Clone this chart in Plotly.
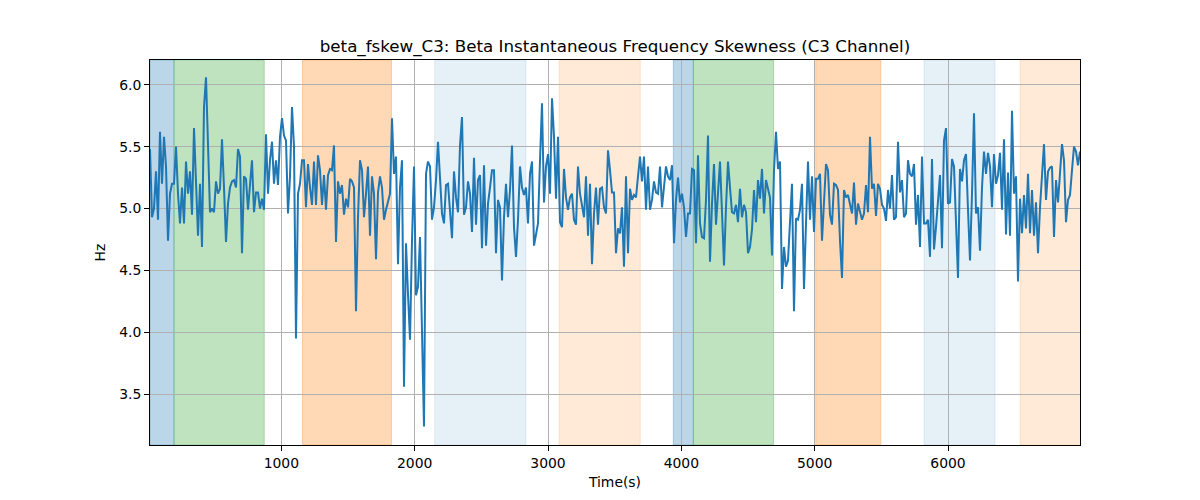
import numpy as np
import plotly.graph_objects as go

# Signal values (Hz), one sample every 15 s
values = [
    5.48, 4.93, 5.00, 5.30, 4.91, 5.62, 5.20, 5.58, 5.34, 4.74, 5.12, 5.20, 5.20, 5.50, 5.12, 4.88,
    5.17, 4.88, 5.38, 5.12, 5.30, 4.95, 5.65, 5.17, 4.78, 5.20, 4.69, 5.82, 6.06, 5.52, 4.97, 5.00,
    4.97, 5.22, 5.12, 5.16, 5.56, 5.17, 4.73, 5.04, 5.17, 5.22, 5.23, 5.17, 5.48, 5.42, 4.64, 5.26,
    5.24, 4.99, 5.17, 5.39, 4.97, 5.13, 5.13, 5.00, 5.08, 4.99, 5.60, 5.12, 5.39, 5.54, 5.20, 5.39,
    5.19, 5.58, 5.73, 5.59, 5.55, 4.96, 5.26, 5.82, 5.50, 3.95, 5.12, 5.20, 5.39,
    # zoom 2
    5.39, 5.01, 5.36, 5.17, 5.03, 5.38, 5.03, 5.43, 5.31, 5.03, 5.27, 4.99, 5.27, 5.32, 5.31, 5.51,
    4.73, 5.22, 5.12, 5.19, 4.95, 5.08, 5.01, 5.24, 5.22, 5.17, 4.17, 4.93, 5.39, 5.31, 4.93, 5.12,
    5.34, 4.78, 5.26, 5.12, 4.59, 5.13, 5.26, 5.17, 4.91, 4.99, 5.07, 5.12, 5.73, 5.28, 5.42, 4.55,
    5.17, 5.39, 3.56, 4.72, 4.31, 3.94, 4.74, 5.34, 4.30, 4.37, 4.77, 4.05, 3.24, 5.28, 5.38, 5.34,
    4.91, 5.01, 5.23, 5.54, 5.20, 4.96, 4.88, 5.19, 5.20, 4.93, 4.76, 5.30, 5.09, 4.97, 5.51,
    # zoom 3
    5.74, 4.95, 5.01, 5.22, 5.12, 4.81, 5.41, 4.87, 5.23, 5.27, 4.68, 5.35, 4.70, 5.04, 5.17, 5.31,
    5.31, 4.64, 5.07, 5.01, 4.42, 4.93, 5.20, 4.93, 5.15, 5.51, 4.85, 4.61, 4.91, 5.34, 5.17, 5.11,
    5.17, 4.88, 5.28, 5.38, 4.70, 4.80, 4.88, 5.39, 5.85, 5.05, 5.34, 5.44, 5.12, 5.89, 5.58, 5.08,
    5.58, 4.89, 4.85, 5.32, 5.09, 4.99, 5.09, 5.12, 4.91, 4.87, 5.34, 5.12, 5.01, 4.93, 5.26, 4.78,
    5.20, 4.55, 4.96, 5.17, 4.87, 5.16, 5.17, 5.01, 4.96, 5.47, 5.31, 5.13, 5.13, 4.64,
    # zoom 4
    4.84, 4.80, 5.01, 4.53, 5.26, 4.64, 5.16, 5.07, 5.11, 5.09, 5.26, 5.42, 5.22, 5.42, 4.99, 5.34,
    4.99, 5.07, 5.22, 5.13, 5.12, 5.34, 5.01, 5.17, 5.34, 5.26, 5.23, 5.35, 4.72, 5.07, 5.25, 5.05,
    5.12, 5.01, 4.77, 4.96, 4.96, 5.32, 5.31, 4.72, 5.43, 4.88, 4.77, 4.76, 5.07, 5.59, 4.57, 5.04,
    5.36, 4.87, 5.12, 5.38, 4.97, 4.54, 5.01, 5.38, 5.17, 4.97, 4.96, 5.03, 4.89, 5.16, 4.93, 5.03,
    4.97, 4.64, 4.69, 4.83, 5.15, 4.89, 5.23, 5.08, 5.32, 4.96, 5.23, 5.17, 5.09,
    # zoom 5
    4.62, 5.31, 5.62, 5.32, 5.38, 4.35, 4.69, 4.53, 4.58, 4.85, 5.20, 4.17, 4.92, 4.91, 4.99, 5.20,
    4.35, 4.88, 5.38, 4.91, 5.26, 4.81, 5.24, 5.24, 5.28, 4.74, 5.01, 5.36, 5.31, 4.95, 4.87, 5.20,
    5.19, 5.15, 4.74, 4.44, 5.15, 5.09, 5.11, 5.04, 4.96, 5.21, 4.87, 5.04, 4.97, 4.91, 4.96, 5.19,
    4.97, 5.58, 5.16, 5.20, 4.94, 5.20, 5.16, 5.03, 5.00, 4.90, 5.15, 5.00, 5.27, 4.91, 4.93, 5.54,
    5.13, 5.23, 4.93, 4.96, 5.39, 5.28, 5.26, 5.36, 4.87, 5.11, 4.69, 5.42, 4.88,
    # zoom 6
    4.88, 4.91, 4.61, 5.40, 4.67, 4.85, 5.04, 5.27, 4.68, 5.55, 5.65, 5.04, 5.05, 5.40, 5.34, 4.85,
    4.44, 5.32, 5.22, 5.39, 5.44, 4.99, 4.58, 5.12, 5.77, 4.96, 5.01, 4.66, 5.17, 5.46, 5.28, 5.45,
    5.34, 5.01, 5.44, 5.20, 5.27, 5.45, 4.99, 5.56, 4.79, 5.29, 4.78, 5.79, 5.12, 5.26, 4.41, 5.08,
    4.80, 5.11, 4.84, 5.28, 4.80, 5.15, 4.78, 5.05, 4.64, 5.01, 5.31, 5.52, 5.07, 5.30, 5.33, 5.34,
    4.77, 5.23, 5.05, 5.31, 5.52, 5.39, 4.89, 5.07, 5.11, 5.31, 5.50, 5.46, 5.35, 5.46,
]
sample_step = 15
time_s = [sample_step * (i + 1) for i in range(len(values))]

# Shaded segments: start, end, colour
span_starts = [15, 195, 1158, 2150, 3083, 3940, 4090, 5008, 5820, 6541]
span_ends = [195, 872, 1827, 2835, 3692, 4090, 4692, 5496, 6353, 7000]
span_colors = [
    "rgba(31,119,180,0.3)", "rgba(44,160,44,0.3)", "rgba(255,127,14,0.3)",
    "rgba(31,119,180,0.11)", "rgba(255,127,14,0.16)", "rgba(31,119,180,0.3)",
    "rgba(44,160,44,0.3)", "rgba(255,127,14,0.3)", "rgba(31,119,180,0.11)",
    "rgba(255,127,14,0.16)",
]

x_ticks = [1000, 2000, 3000, 4000, 5000, 6000]
y_ticks = [3.5, 4.0, 4.5, 5.0, 5.5, 6.0]

fig = go.Figure()
for s, e, c in zip(span_starts, span_ends, span_colors):
    fig.add_shape(type="rect", xref="x", yref="paper", x0=s, x1=e, y0=0, y1=1,
                  fillcolor=c, line=dict(color=c, width=1), layer="below")

fig.add_trace(go.Scatter(x=time_s, y=values, mode="lines",
                         line=dict(color="#1f77b4", width=2), showlegend=False))

font_tick = dict(family="DejaVu Sans", size=13.9, color="black")
axis_common = dict(showline=True, linecolor="black", linewidth=1, mirror=True,
                   ticks="outside", ticklen=5, tickcolor="black",
                   showgrid=True, gridcolor="#b0b0b0", gridwidth=1, zeroline=False,
                   tickfont=font_tick)

fig.update_xaxes(range=[time_s[0], time_s[-1]], tickvals=x_ticks,
                 title=dict(text="Time(s)", font=font_tick, standoff=7),
                 **axis_common)
fig.update_yaxes(range=[3.09, 6.2], tickvals=y_ticks, tickformat=".1f",
                 title=dict(text="Hz", font=font_tick, standoff=10),
                 **axis_common)

fig.update_layout(
    width=1200, height=500,
    margin=dict(l=142, r=128, t=52, b=63),
    paper_bgcolor="white", plot_bgcolor="white",
    title=dict(text="beta_fskew_C3: Beta Instantaneous Frequency Skewness (C3 Channel)",
               x=607 / 1200, xanchor="center", y=1 - 38 / 500, yanchor="middle",
               font=dict(family="DejaVu Sans", size=16.7, color="black")),
)

fig.write_html("out.html")
